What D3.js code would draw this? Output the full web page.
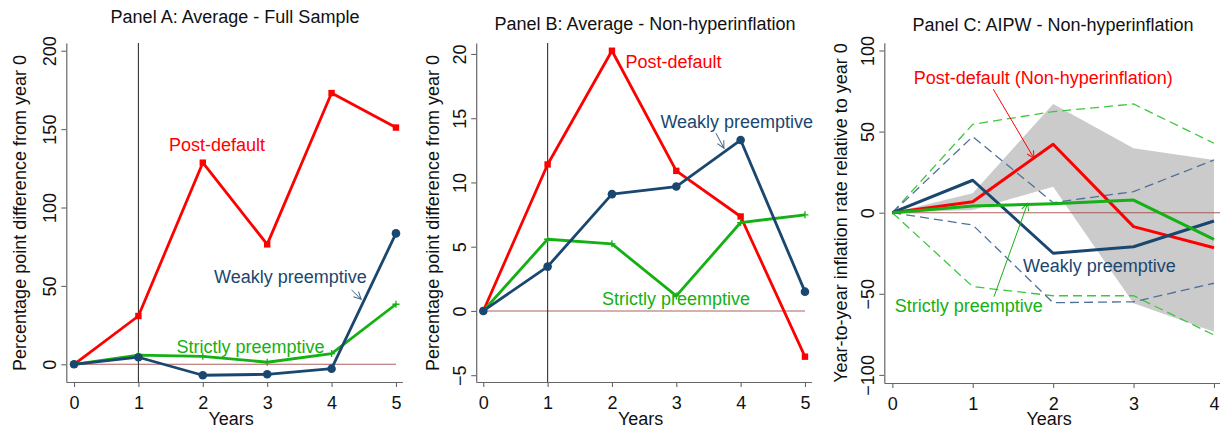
<!DOCTYPE html>
<html>
<head>
<meta charset="utf-8">
<style>
  body { margin: 0; background: #fff; }
  svg { display: block; font-family: "Liberation Sans", Arial, sans-serif; }
</style>
</head>
<body>
<script src="https://cdn.jsdelivr.net/npm/d3@7"></script>
<script>

// ---- data ----
var yearsAB = [0, 1, 2, 3, 4, 5];
var yearsC = [0, 1, 2, 3, 4];

// Panel A: Average - Full Sample
var aPost   = [0, 30.8, 128.6, 76.5, 173, 151];
var aWeak   = [0, 4.5, -7, -6.4, -2.8, 83.5];
var aStrict = [0, 5.9, 5.1, 1.3, 6.8, 38.3];

// Panel B: Average - Non-hyperinflation
var bPost   = [0, 11.4, 20.25, 10.9, 7.35, -3.56];
var bWeak   = [0, 3.45, 9.09, 9.68, 13.3, 1.5];
var bStrict = [0, 5.58, 5.22, 1.17, 6.88, 7.48];

// Panel C: AIPW - Non-hyperinflation
var cPost     = [0, 6.8, 42.2, -8.6, -21.6];
var cPostLo   = [0, 1.7, 16, -55.9, -73.4];
var cPostHi   = [0, 12, 67, 39.7, 32.5];
var cWeak     = [0, 20, -25, -21, -5.1];
var cWeakLo   = [0, -7.6, -55.5, -54.9, -43.5];
var cWeakHi   = [0, 46.9, 6.2, 13, 32.5];
var cStrict   = [0, 4.1, 5.5, 7.8, -16.4];
var cStrictLo = [0, -45.6, -51.2, -51.2, -75.4];
var cStrictHi = [0, 54.5, 62.3, 67, 42.8];

var xTicksAB = [0, 1, 2, 3, 4, 5];
var xTicksC = [0, 1, 2, 3, 4];
var yTicksA = [0, 50, 100, 150, 200];
var yTicksB = [-5, 0, 5, 10, 15, 20];
var yTicksC = [-100, -50, 0, 50, 100];

var RED = "#ff0000", NAVY = "#1a476f", GREEN = "#14b014";

var W = 1220, H = 427;
var svg = d3.select("body").append("svg").attr("width", W).attr("height", H);

var defs = svg.append("defs");
function arrowMarker(id, color) {
  defs.append("marker")
    .attr("id", id).attr("viewBox", "0 0 10 10")
    .attr("refX", 9).attr("refY", 5)
    .attr("markerWidth", 9).attr("markerHeight", 9)
    .attr("markerUnits", "userSpaceOnUse")
    .attr("orient", "auto")
    .append("path").attr("d", "M1,1 L9,5 L1,9")
    .attr("fill", "none").attr("stroke", color).attr("stroke-width", 1.1);
}
arrowMarker("arRed", RED);
arrowMarker("arNavy", "#3f6286");
arrowMarker("arGreen", GREEN);

function toPts(xs, ys) { return xs.map(function(d, i) { return [d, ys[i]]; }); }

function panel(cfg) {
  var g = svg.append("g");
  var x = d3.scaleLinear().domain(cfg.xDom).range(cfg.xRange);
  var y = d3.scaleLinear().domain(cfg.yDom).range(cfg.yRange);
  var line = d3.line().x(function(d) { return x(d[0]); }).y(function(d) { return y(d[1]); });

  // title
  g.append("text").attr("x", cfg.titleX).attr("y", cfg.titleY)
    .attr("text-anchor", "middle").attr("font-size", 18).attr("fill", "#111")
    .text(cfg.title);

  // confidence band & dashed bounds (panel C)
  if (cfg.band) {
    var area = d3.area()
      .x(function(d, i) { return x(cfg.xs[i]); })
      .y0(function(d) { return y(d[0]); })
      .y1(function(d) { return y(d[1]); });
    g.append("path")
      .datum(cfg.band.lo.map(function(v, i) { return [v, cfg.band.hi[i]]; }))
      .attr("d", area).attr("fill", "#cbcbcb");
  }
  (cfg.dashed || []).forEach(function(s) {
    g.append("path").datum(toPts(cfg.xs, s.values))
      .attr("d", line).attr("fill", "none")
      .attr("stroke", s.color).attr("stroke-width", 1.3)
      .attr("stroke-dasharray", "9,5");
  });

  // reference lines
  g.append("line")
    .attr("x1", x(cfg.xs[0])).attr("x2", cfg.refEnd ? cfg.refEnd : x(cfg.xs[cfg.xs.length - 1]))
    .attr("y1", y(0)).attr("y2", y(0))
    .attr("stroke", "#a04646").attr("stroke-width", 1.1).attr("opacity", 0.85);
  if (cfg.vline !== undefined) {
    g.append("line")
      .attr("x1", x(cfg.vline)).attr("x2", x(cfg.vline))
      .attr("y1", cfg.yRange[0]).attr("y2", cfg.yRange[1])
      .attr("stroke", "#333").attr("stroke-width", 1.1);
  }

  // axes
  var xAxis = g.append("g").attr("transform", "translate(0," + cfg.yRange[0] + ")")
    .call(d3.axisBottom(x).tickValues(cfg.xTicks).tickFormat(d3.format("d"))
      .tickSize(5).tickPadding(9).tickSizeOuter(0));
  var yAxis = g.append("g").attr("transform", "translate(" + cfg.xRange[0] + ",0)")
    .call(d3.axisLeft(y).tickValues(cfg.yTicks).tickFormat(d3.format("d"))
      .tickSize(5).tickSizeOuter(0));
  [xAxis, yAxis].forEach(function(a) {
    a.select(".domain").attr("stroke", "#666").attr("stroke-width", 1.2);
    a.selectAll(".tick line").attr("stroke", "#666").attr("stroke-width", 1.1);
    a.selectAll(".tick text").attr("font-size", 18).attr("fill", "#111")
      .attr("font-family", "Liberation Sans, Arial, sans-serif");
  });
  yAxis.selectAll(".tick text")
    .attr("transform", "rotate(-90)")
    .attr("text-anchor", "middle")
    .attr("x", 0).attr("y", -10.5).attr("dy", 0);

  // axis titles
  g.append("text")
    .attr("x", (cfg.xRange[0] + x(cfg.xTicks[cfg.xTicks.length - 1])) / 2).attr("y", 425)
    .attr("text-anchor", "middle").attr("font-size", 18).attr("fill", "#111")
    .text("Years");
  g.append("text")
    .attr("transform", "translate(" + (cfg.xRange[0] - cfg.yTitleOff) + "," + cfg.yTitleY + ") rotate(-90)")
    .attr("text-anchor", "middle").attr("font-size", 18).attr("fill", "#111")
    .text(cfg.yTitle);

  // series
  cfg.series.forEach(function(s) {
    var pts = toPts(cfg.xs, s.values);
    g.append("path").datum(pts).attr("d", line)
      .attr("fill", "none").attr("stroke", s.color)
      .attr("stroke-width", s.width).attr("stroke-linejoin", "round");
    if (s.marker === "square") {
      g.selectAll(null).data(pts).join("rect")
        .attr("x", function(d) { return x(d[0]) - 3.2; })
        .attr("y", function(d) { return y(d[1]) - 3.2; })
        .attr("width", 6.4).attr("height", 6.4).attr("fill", s.color);
    } else if (s.marker === "circle") {
      g.selectAll(null).data(pts).join("circle")
        .attr("cx", function(d) { return x(d[0]); })
        .attr("cy", function(d) { return y(d[1]); })
        .attr("r", 4.3).attr("fill", s.color);
    } else if (s.marker === "plus") {
      g.selectAll(null).data(pts).join("path")
        .attr("d", function(d) {
          var px = x(d[0]), py = y(d[1]);
          return "M" + (px - 3.5) + "," + py + "H" + (px + 3.5) + "M" + px + "," + (py - 3.5) + "V" + (py + 3.5);
        })
        .attr("stroke", s.color).attr("stroke-width", 1.3);
    }
  });

  // annotations
  cfg.labels.forEach(function(l) {
    g.append("text").attr("x", x(l.at[0])).attr("y", y(l.at[1]))
      .attr("text-anchor", "middle").attr("dominant-baseline", "central")
      .attr("font-size", 18).attr("fill", l.color).text(l.text);
    if (l.arrow) {
      g.append("line")
        .attr("x1", x(l.arrow[0][0])).attr("y1", y(l.arrow[0][1]))
        .attr("x2", x(l.arrow[1][0])).attr("y2", y(l.arrow[1][1]))
        .attr("stroke", l.arrowColor || l.color).attr("stroke-width", 1)
        .attr("marker-end", "url(#" + l.marker + ")");
    }
  });
}

panel({
  title: "Panel A: Average - Full Sample", titleX: 235, titleY: 23,
  xs: yearsAB, xTicks: xTicksAB, yTicks: yTicksA,
  xDom: [-0.12, 5.1], xRange: [66.3, 402.4],
  yDom: [-11.3, 205], yRange: [382, 42.9],
  vline: 1,
  yTitle: "Percentage point difference from year 0", yTitleOff: 40, yTitleY: 213,
  series: [
    { values: aPost, color: RED, width: 2.8, marker: "square" },
    { values: aStrict, color: GREEN, width: 2.8, marker: "plus" },
    { values: aWeak, color: NAVY, width: 2.8, marker: "circle" }
  ],
  labels: [
    { text: "Post-default", at: [2.22, 139.9], color: RED },
    { text: "Weakly preemptive", at: [3.36, 55.7], color: NAVY,
      arrow: [[4.31, 47.4], [4.46, 41.5]], arrowColor: "#3f6286", marker: "arNavy" },
    { text: "Strictly preemptive", at: [2.74, 11.2], color: GREEN }
  ]
});

panel({
  title: "Panel B: Average - Non-hyperinflation", titleX: 645, titleY: 30,
  xs: yearsAB, xTicks: xTicksAB, yTicks: yTicksB,
  xDom: [-0.11, 5.1], xRange: [476.2, 811.4],
  yDom: [-5.53, 20.86], yRange: [382, 42.9],
  vline: 1,
  yTitle: "Percentage point difference from year 0", yTitleOff: 37, yTitleY: 213,
  series: [
    { values: bPost, color: RED, width: 2.8, marker: "square" },
    { values: bStrict, color: GREEN, width: 2.8, marker: "plus" },
    { values: bWeak, color: NAVY, width: 2.8, marker: "circle" }
  ],
  labels: [
    { text: "Post-default", at: [2.956, 19.35], color: RED },
    { text: "Weakly preemptive", at: [3.94, 14.73], color: NAVY,
      arrow: [[3.617, 13.83], [3.741, 12.66]], arrowColor: "#3f6286", marker: "arNavy" },
    { text: "Strictly preemptive", at: [2.995, 0.93], color: GREEN }
  ]
});

panel({
  title: "Panel C: AIPW - Non-hyperinflation", titleX: 1053, titleY: 31,
  xs: yearsC, xTicks: xTicksC, yTicks: yTicksC,
  xDom: [-0.1, 4.1], xRange: [884.3, 1222],
  yDom: [-105, 104.8], yRange: [383, 42.7],
  refEnd: 1220,
  yTitle: "Year-to-year inflation rate relative to year 0", yTitleOff: 37, yTitleY: 213,
  band: { lo: cPostLo, hi: cPostHi },
  dashed: [
    { values: cStrictHi, color: "#3fc63f" },
    { values: cStrictLo, color: "#3fc63f" },
    { values: cWeakHi, color: "#50709a" },
    { values: cWeakLo, color: "#50709a" }
  ],
  series: [
    { values: cPost, color: RED, width: 3 },
    { values: cWeak, color: NAVY, width: 3 },
    { values: cStrict, color: GREEN, width: 3 }
  ],
  labels: [
    { text: "Post-default (Non-hyperinflation)", at: [1.877, 82.9], color: RED,
      arrow: [[1.256, 76.1], [1.762, 33.5]], marker: "arRed" },
    { text: "Weakly preemptive", at: [2.576, -32.7], color: NAVY },
    { text: "Strictly preemptive", at: [0.95, -57.3], color: GREEN,
      arrow: [[1.264, -51.8], [1.683, 5.8]], marker: "arGreen" }
  ]
});

</script>
</body>
</html>
